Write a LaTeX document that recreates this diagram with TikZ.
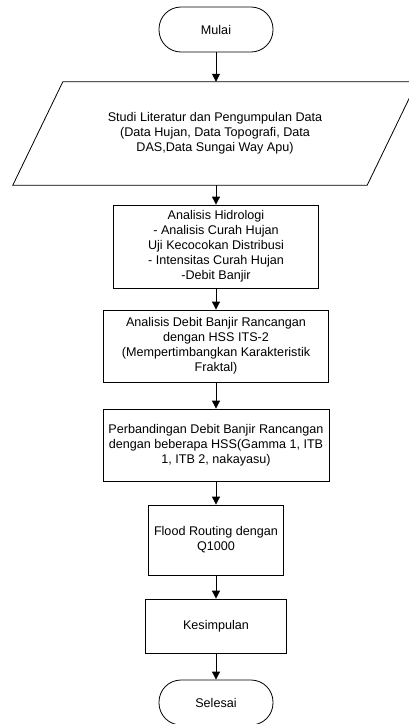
\documentclass[tikz,border=0pt]{standalone}
\usepackage{fontspec}
\setmainfont{Liberation Sans}
\usetikzlibrary{arrows.meta}
\begin{document}
\begin{tikzpicture}[x=1pt,y=-1pt,
    font=\fontsize{12.6}{15}\selectfont,
    proses/.style={draw,line width=0.8pt,align=center,inner sep=2pt},
    terminal/.style={draw,line width=0.8pt,rounded corners=22pt,minimum width=114pt,minimum height=45pt},
    garis/.style={line width=0.8pt},
    panah/.style={line width=0.8pt,-{Triangle[length=8pt,width=8pt]}}]
  \useasboundingbox (0,0) rectangle (409,724);
  % 开始
  \node[terminal] (mulai) at (216,29.5) {Mulai};
  % 输入数据（平行四边形）
  \node[align=center,minimum width=354pt,minimum height=103pt,inner sep=0pt] (studi) at (215,133.5)
    {Studi Literatur dan Pengumpulan Data\\(Data Hujan, Data Topografi, Data\\DAS,Data Sungai Way Apu)};
  \draw[garis] ([xshift=-25pt]studi.south west) -- ([xshift=-25pt]studi.south east)
    -- ([xshift=25pt]studi.north east) -- ([xshift=25pt]studi.north west) -- cycle;
  % 各个步骤
  \node[proses,minimum width=205pt,minimum height=83pt] (hidro) at (216,246.5)
    {Analisis Hidrologi\\- Analisis Curah Hujan\\Uji Kecocokan Distribusi\\- Intensitas Curah Hujan\\-Debit Banjir};
  \node[proses,minimum width=225pt,minimum height=72pt] (hss) at (216,346)
    {Analisis Debit Banjir Rancangan\\dengan HSS ITS-2\\(Mempertimbangkan Karakteristik\\Fraktal)};
  \node[proses,minimum width=226pt,minimum height=72pt] (banding) at (216,445)
    {Perbandingan Debit Banjir Rancangan\\dengan beberapa HSS(Gamma 1, ITB\\1, ITB 2, nakayasu)};
  \node[proses,minimum width=135pt,minimum height=70pt] (flood) at (216,540)
    {Flood Routing dengan\\Q1000};
  \node[proses,minimum width=141pt,minimum height=54pt] (simpul) at (216,626) {Kesimpulan};
  % 结束
  \node[terminal] (selesai) at (216,702.5) {Selesai};
  % 箭头
  \draw[panah] (mulai.south) -- (mulai.south |- studi.north);
  \draw[panah] (hidro.north |- studi.south) -- (hidro.north);
  \draw[panah] (hidro) -- (hss);
  \draw[panah] (hss) -- (banding);
  \draw[panah] (banding) -- (flood);
  \draw[panah] (flood) -- (simpul);
  \draw[panah] (simpul) -- (selesai);
\end{tikzpicture}
\end{document}
